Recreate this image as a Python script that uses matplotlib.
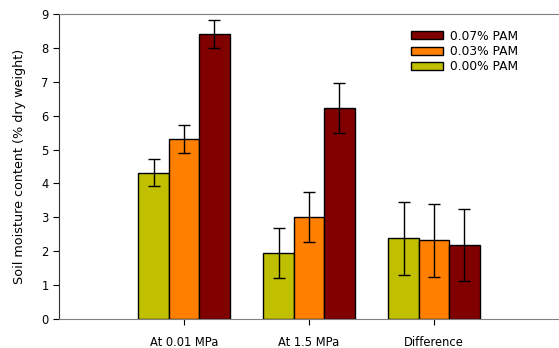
import numpy as np
import matplotlib
matplotlib.use("Agg")
import matplotlib.pyplot as plt

plt.rcParams["font.family"] = ["DejaVu Sans"]

categories = ["At 0.01 MPa", "At 1.5 MPa", "Difference"]
series = ["0.00% PAM", "0.03% PAM", "0.07% PAM"]
means = {
    "0.00% PAM": [4.32, 1.95, 2.38],
    "0.03% PAM": [5.30, 3.00, 2.32],
    "0.07% PAM": [8.41, 6.22, 2.19],
}
errs = {
    "0.00% PAM": [0.41, 0.73, 1.07],
    "0.03% PAM": [0.41, 0.74, 1.07],
    "0.07% PAM": [0.41, 0.74, 1.07],
}
colors = {"0.00% PAM": "#c0c000", "0.03% PAM": "#ff8000", "0.07% PAM": "#800000"}

fig = plt.figure(figsize=(5.59, 3.48), dpi=100)
ax = fig.add_axes([0.1055, 0.0833, 0.8945, 0.8765])

x = np.arange(1, len(categories) + 1)
w = 0.243
handles = {}
for i, s in enumerate(series):
    b = ax.bar(x + (i - 1) * w, means[s], w, color=colors[s],
               edgecolor="black", linewidth=1.0, zorder=2)
    ax.errorbar(x + (i - 1) * w, means[s], yerr=errs[s], fmt="none",
                ecolor="black", elinewidth=1.0, capsize=4, capthick=1.0, zorder=3)
    handles[s] = b

ax.set_xlim(0, 4)
ax.set_ylim(0, 9)
ax.set_yticks(range(10))
ax.set_xticks(x, categories)
ax.tick_params(axis="x", length=4, pad=8, labelsize=8.3)
ax.tick_params(axis="y", length=4, labelsize=8.3)
ax.set_ylabel("Soil moisture content (% dry weight)", fontsize=9.2, labelpad=11)

ax.spines["right"].set_visible(False)
ax.spines["left"].set_color("#303030")
ax.spines["top"].set_color("#808080")
ax.spines["bottom"].set_color("#808080")

order = ["0.07% PAM", "0.03% PAM", "0.00% PAM"]
ax.legend([handles[s] for s in order], order, loc="upper left",
          bbox_to_anchor=(0.682, 0.985), frameon=False, fontsize=8.8,
          handlelength=2.6, handleheight=0.65, labelspacing=0.2,
          handletextpad=0.6)

fig.savefig("out.png", dpi=100)
